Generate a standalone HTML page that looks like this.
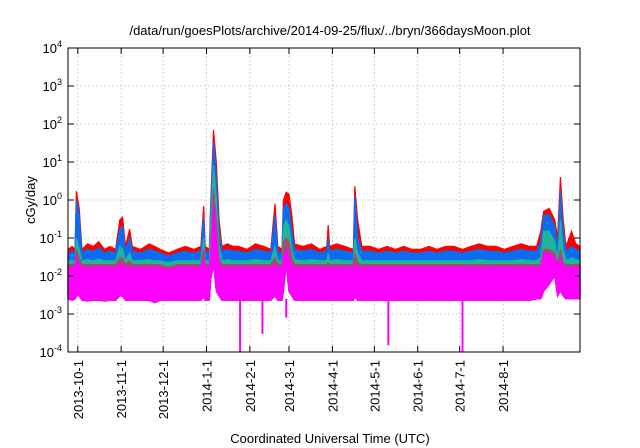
<!DOCTYPE html>
<html><head><meta charset="utf-8"><style>
html,body{margin:0;padding:0;background:#fff;}
svg{display:block;font-family:"Liberation Sans",sans-serif;}
</style></head><body>
<svg id="chart" width="640" height="448" viewBox="0 0 640 448" xmlns="http://www.w3.org/2000/svg">
<text x="330" y="35" font-size="13" text-anchor="middle">/data/run/goesPlots/archive/2014-09-25/flux/../bryn/366daysMoon.plot</text>
<text transform="translate(35,200) rotate(-90)" font-size="13" text-anchor="middle">cGy/day</text>
<text x="330" y="443" font-size="13" text-anchor="middle">Coordinated Universal Time (UTC)</text>
<g id="grid"></g>
<g id="series"></g>
<g id="axes"></g>
</svg>
<script>
const dayIdx=[0,3,5,6,8,10,14,18,22,26,30,34,37,39,41,44,46,52,58,62,66,72,78,84,90,95,97,98,101,102,104,106,108,110,114,118,122,128,134,140,145,148,150,153,154,156,158,160,162,168,174,180,185,186,187,192,198,204,205,207,210,216,222,228,234,240,246,252,258,264,270,276,282,288,294,300,306,312,318,324,330,335,338,340,344,348,350,352,354,356,360,363,366];
const redVals=[.05,.06,.05,1.7,.6,.05,.07,.06,.08,.05,.06,.05,.3,.35,.06,.17,.06,.05,.07,.06,.05,.04,.05,.06,.05,.06,.7,.06,.05,.8,70,10,.3,.06,.07,.06,.06,.05,.07,.06,.05,.8,.06,.05,1.0,1.6,1.4,.4,.07,.06,.07,.05,.06,.22,.06,.07,.06,.05,2.3,.3,.06,.06,.05,.06,.05,.06,.05,.05,.06,.05,.06,.06,.05,.06,.07,.06,.06,.05,.06,.07,.06,.06,.15,.5,.6,.3,.1,4,.3,.06,.15,.07,.06];
const blueVals=[.04,.045,.04,1.0,.4,.04,.05,.045,.055,.04,.045,.04,.18,.2,.045,.1,.045,.04,.05,.045,.04,.033,.04,.045,.04,.045,.35,.045,.04,.5,35,4,.15,.045,.05,.045,.045,.04,.05,.045,.04,.4,.045,.04,.6,.8,.6,.15,.05,.045,.05,.04,.045,.1,.045,.05,.045,.04,1.3,.1,.045,.045,.04,.045,.04,.045,.04,.04,.045,.04,.045,.045,.04,.045,.05,.045,.045,.04,.045,.05,.045,.045,.08,.4,.4,.2,.05,1.8,.15,.045,.06,.05,.045];
const tealVals=[.025,.025,.025,.1,.05,.025,.027,.025,.028,.025,.025,.025,.06,.05,.025,.04,.025,.025,.027,.025,.025,.022,.025,.025,.025,.025,.1,.025,.025,.2,8,1,.06,.025,.027,.025,.025,.025,.027,.025,.025,.06,.025,.025,.2,.3,.2,.05,.027,.025,.027,.025,.025,.04,.025,.027,.025,.025,.1,.04,.025,.025,.025,.025,.025,.025,.025,.025,.025,.025,.025,.025,.025,.025,.027,.025,.025,.025,.025,.027,.025,.025,.03,.15,.15,.08,.025,.3,.05,.025,.03,.027,.025];
const brownVals=[.02,.02,.02,.05,.03,.02,.02,.02,.02,.02,.02,.02,.03,.03,.02,.025,.02,.02,.02,.02,.02,.017,.02,.02,.02,.02,.05,.02,.02,.05,2,.3,.03,.02,.02,.02,.02,.02,.02,.02,.02,.03,.02,.02,.08,.1,.08,.03,.02,.02,.02,.02,.02,.022,.02,.02,.02,.02,.04,.022,.02,.02,.02,.02,.02,.02,.02,.02,.02,.02,.02,.02,.02,.02,.02,.02,.02,.02,.02,.02,.02,.02,.02,.05,.05,.04,.02,.05,.022,.02,.02,.02,.02];
const magTopVals=[.017,.017,.017,.03,.02,.017,.017,.017,.018,.017,.017,.017,.02,.02,.017,.017,.017,.017,.017,.017,.017,.015,.017,.017,.017,.017,.03,.017,.017,.03,.8,.1,.02,.017,.017,.017,.017,.017,.017,.017,.017,.02,.017,.017,.03,.05,.03,.02,.017,.017,.017,.017,.017,.017,.017,.017,.017,.017,.02,.017,.017,.017,.017,.017,.017,.017,.017,.017,.017,.017,.017,.017,.017,.017,.017,.017,.017,.017,.017,.017,.017,.017,.017,.04,.04,.03,.017,.03,.017,.017,.017,.017,.017];
const magLowVals=[.0025,.0023,.0025,.003,.003,.0023,.0022,.0023,.0023,.0022,.0023,.0023,.003,.003,.0023,.0023,.0023,.0023,.0023,.002,.0023,.0023,.0023,.0023,.0023,.0023,.003,.0023,.0023,.008,.02,.004,.003,.0023,.0023,.0023,.0023,.0023,.0023,.0023,.0023,.003,.0023,.0023,.004,.02,.004,.003,.0023,.0023,.0023,.0023,.0023,.0023,.0023,.0023,.0023,.0023,.003,.0023,.0023,.0023,.0023,.0023,.0023,.0023,.0023,.0023,.0023,.0023,.0023,.0023,.0023,.0023,.0023,.0023,.0023,.0023,.0023,.0023,.0023,.0025,.0025,.004,.006,.01,.003,.004,.003,.0025,.0025,.0025,.0025];
const dipDays=[123,139,156,229,282];
const dipVals=[0.00005,0.0003,0.0008,0.00015,0.00005];
const monthLabels=["2013-10-1","2013-11-1","2013-12-1","2014-1-1","2014-2-1","2014-3-1","2014-4-1","2014-5-1","2014-6-1","2014-7-1","2014-8-1"];
const monthDays=[7,38,68,99,130,158,189,219,250,280,311];
const yExps=[-4,-3,-2,-1,0,1,2,3,4];

const L=68,R=580,T=48,B=352,NDAYS=366;
const NS="http://www.w3.org/2000/svg";
function xs(d){return L+(d/NDAYS)*(R-L);}
function ys(v){const lv=Math.max(-4,Math.min(4,Math.log10(v)));return B-(lv+4)/8*(B-T);}
function mk(tag,attrs,parent){const e=document.createElementNS(NS,tag);for(const k in attrs)e.setAttribute(k,attrs[k]);parent.appendChild(e);return e;}

const grid=document.getElementById('grid'),ser=document.getElementById('series'),axes=document.getElementById('axes');
yExps.forEach(p=>{const y=ys(Math.pow(10,p));
  if(p>-4&&p<4){const g=mk('line',{x1:L,x2:R,y1:y,y2:y,stroke:'#bbb','stroke-width':0.8,'stroke-dasharray':'1.5,2.5'},grid);
  
  }
  const t=mk('text',{x:62,y:y+5,'font-size':13,'text-anchor':'end'},axes);
  
  
  t.appendChild(document.createTextNode('10'));
  const s=mk('tspan',{dy:-6,'font-size':9},t);s.textContent=String(p).replace('-','-');
  const tk1=mk('line',{x1:L,x2:L+6,y1:y,y2:y,stroke:'#000'},axes);
  
  
  const tk2=mk('line',{x1:R-6,x2:R,y1:y,y2:y,stroke:'#000'},axes);
  
  
});
monthDays.forEach((d,i)=>{const x=xs(d);
  const g=mk('line',{x1:x,x2:x,y1:T,y2:B,stroke:'#bbb','stroke-width':0.8,'stroke-dasharray':'1.5,2.5'},grid);
  
  
  const tk=mk('line',{x1:x,x2:x,y1:B-6,y2:B,stroke:'#000'},axes);
  
  
  const tk2=mk('line',{x1:x,x2:x,y1:T,y2:T+6,stroke:'#000'},axes);
  
  
  const t=mk('text',{transform:`translate(${x+5},360) rotate(-90)`,'font-size':13,'text-anchor':'end'},axes);
  
  
  t.textContent=monthLabels[i];
});
function area(vals,color,name){
  let pts=dayIdx.map((d,i)=>xs(d).toFixed(1)+','+ys(vals[i]).toFixed(1));
  let low=dayIdx.map((d,i)=>xs(d).toFixed(1)+','+ys(magLowVals[i]).toFixed(1)).reverse();
  const p=mk('polygon',{points:pts.concat(low).join(' '),fill:color,stroke:color,'stroke-width':1.2,'stroke-linejoin':'miter'},ser);
  
  
}
area(redVals,'#ff0000','series-red');
area(blueVals,'#0a6cf0','series-blue');
area(tealVals,'#20b49a','series-teal');
area(brownVals,'#a0506a','series-brown');
area(magTopVals,'#ff00ff','series-magenta');
dipDays.forEach((d,i)=>{
  const l=mk('line',{x1:xs(d),x2:xs(d),y1:ys(0.0025),y2:ys(dipVals[i]),stroke:'#ff00ff','stroke-width':2},ser);
  
  
});
const fr=mk('rect',{x:L,y:T,width:R-L,height:B-T,fill:'none',stroke:'#000','stroke-width':1},axes);


</script>
</body></html>
